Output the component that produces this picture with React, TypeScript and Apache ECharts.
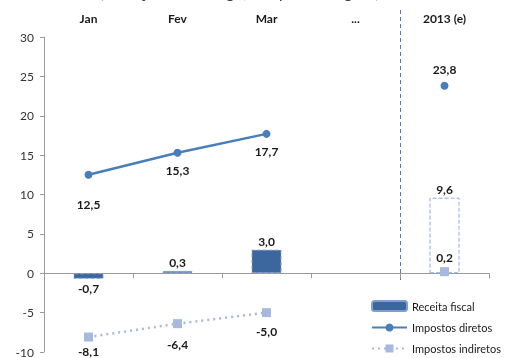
import React, { useEffect, useRef } from "react";
import * as echarts from "echarts";

const categories = ["Jan", "Fev", "Mar", "...", "2013 (e)"];
const receitaFiscal: (number | null)[] = [-0.7, 0.3, 3.0, null, 9.6];
const impostosDiretos: (number | null)[] = [12.5, 15.3, 17.7, null, 23.8];
const impostosIndiretos: (number | null)[] = [-8.1, -6.4, -5.0, null, 0.2];
const yTicks = { min: -10, max: 30, interval: 5 };
const titleText = "fiscal (variação homóloga, em percentagem)";

const FONT = "Lato, 'Open Sans', sans-serif";
const fmt = (v: number) => v.toFixed(1).replace(".", ",");

export default function App() {
  const ref = useRef<HTMLDivElement>(null);
  useEffect(() => {
    if (!ref.current) return;
    const chart = echarts.init(ref.current, null, { renderer: "svg" });
    const labelBase = {
      show: true,
      fontFamily: FONT,
      fontWeight: "bold" as const,
      fontSize: 12,
      color: "#1a1a1a",
      formatter: (p: any) => fmt(p.value),
    };
    const barData = receitaFiscal.map((v, i) => {
      if (v === null) return null;
      const last = i === categories.length - 1;
      return {
        value: v,
        itemStyle: last
          ? { color: "#ffffff", borderColor: "#8eaadb", borderType: "dashed", borderWidth: 1 }
          : { color: "#3c679e", borderColor: "#7fa0cf", borderType: "dashed", borderWidth: 1 },
        label: { position: v < 0 ? "bottom" : "top", distance: v < 0 ? 4 : 2 },
      };
    });
    const dirOffsets = [[0, 14], [0, 2], [0, 2], [0, 0], [0, 0]];
    const dirData = impostosDiretos.map((v, i) => {
      if (v === null) return null;
      const last = i === categories.length - 1;
      return {
        value: v,
        label: { position: last ? "top" : "bottom", distance: 6, offset: dirOffsets[i] },
      };
    });
    const indOffsets = [[0, 0], [0, 6], [0, 4], [0, 0], [0, 0]];
    const indData = impostosIndiretos.map((v, i) => {
      if (v === null) return null;
      const last = i === categories.length - 1;
      return {
        value: v,
        label: { position: last ? "top" : "bottom", distance: 4, offset: indOffsets[i] },
      };
    });

    chart.setOption({
      animation: false,
      textStyle: { fontFamily: FONT },
      grid: { left: 44, right: 18, top: 37, bottom: 4, containLabel: false },
      legend: {
        orient: "vertical",
        left: 371,
        top: 300,
        padding: 0,
        itemWidth: 35,
        itemHeight: 10,
        itemGap: 10,
        textStyle: { fontFamily: FONT, fontSize: 11, color: "#1a1a1a" },
        data: ["Receita fiscal", "Impostos diretos", "Impostos indiretos"],
      },
      xAxis: [
        {
          type: "category",
          data: categories,
          position: "bottom",
          axisLine: { onZero: true, lineStyle: { color: "#9a9a9a", width: 1 } },
          axisTick: { show: true, length: 5, lineStyle: { color: "#9a9a9a" } },
          axisLabel: { show: false },
          splitLine: { show: false },
        },
        {
          type: "category",
          data: categories,
          position: "top",
          axisLine: { show: false },
          axisTick: { show: false },
          axisLabel: {
            show: true,
            margin: 13,
            fontFamily: FONT,
            fontWeight: "bold",
            fontSize: 12,
            color: "#1a1a1a",
          },
        },
      ],
      yAxis: {
        type: "value",
        min: yTicks.min,
        max: yTicks.max,
        interval: yTicks.interval,
        axisLine: { show: true, lineStyle: { color: "#9a9a9a" } },
        axisTick: { show: true, length: 4, lineStyle: { color: "#9a9a9a" } },
        axisLabel: { fontFamily: FONT, fontSize: 12, color: "#333333", margin: 10 },
        splitLine: { show: false },
      },
      series: [
        {
          name: "Receita fiscal",
          type: "bar",
          barWidth: 30,
          data: barData,
          itemStyle: { color: "#3c679e", borderColor: "#7fa0cf", borderType: "dashed", borderWidth: 1 },
          label: labelBase,
        },
        {
          name: "Impostos diretos",
          type: "line",
          data: dirData,
          connectNulls: false,
          symbol: "circle",
          symbolSize: 8,
          lineStyle: { color: "#4a7ebb", width: 2.5 },
          itemStyle: { color: "#4a7ebb" },
          label: labelBase,
        },
        {
          name: "Impostos indiretos",
          type: "line",
          data: indData,
          connectNulls: false,
          symbol: "rect",
          symbolSize: 9,
          lineStyle: { color: "#a7b9dc", width: 2.5, type: [2, 4] },
          itemStyle: { color: "#a7b9dc" },
          label: labelBase,
        },
      ],
    });

    const p3 = chart.convertToPixel({ xAxisIndex: 0 }, categories[3]) as number;
    const p4 = chart.convertToPixel({ xAxisIndex: 0 }, categories[4]) as number;
    const xSep = Math.round((p3 + p4) / 2) + 0.5;
    chart.setOption({
      graphic: [
        {
          type: "line",
          shape: { x1: xSep, y1: 10, x2: xSep, y2: 283 },
          style: { stroke: "#4a7ebb", lineWidth: 1, lineDash: [4, 3] },
          silent: true,
        },
        {
          type: "text",
          left: 57,
          top: -17,
          style: { text: titleText, fontFamily: FONT, fontSize: 17, fill: "#404040" },
          silent: true,
        },
      ],
    });

    return () => chart.dispose();
  }, []);
  return (
    <div
      ref={ref}
      style={{ position: "fixed", left: 0, top: 0, width: 507, height: 358 }}
    />
  );
}
